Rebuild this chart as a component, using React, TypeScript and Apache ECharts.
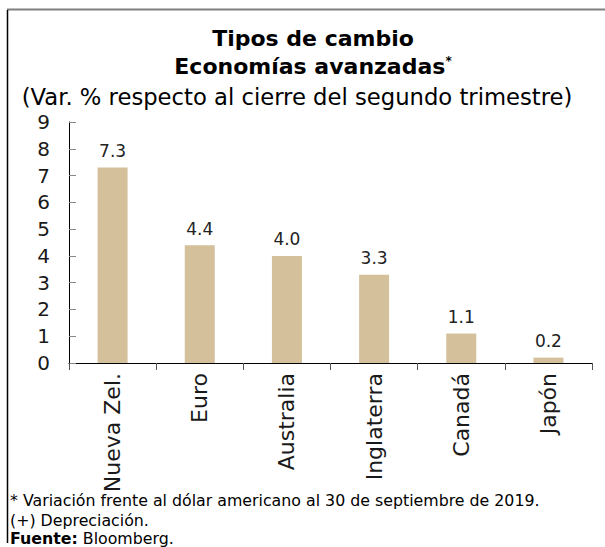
import React, { useEffect, useRef } from "react";
import * as echarts from "echarts";

const categories = ["Nueva Zel.", "Euro", "Australia", "Inglaterra", "Canadá", "Japón"];
const values = [7.3, 4.4, 4.0, 3.3, 1.1, 0.2];
const titleLine1 = "Tipos de cambio";
const titleLine2 = "Economías avanzadas";
const subtitle = "(Var. % respecto al cierre del segundo trimestre)";
const footnotes = [
  "* Variación frente al dólar americano al 30 de septiembre de 2019.",
  "(+) Depreciación.",
];
const sourceLabel = "Fuente:";
const sourceText = " Bloomberg.";

const FONT = "'DejaVu Sans', 'Open Sans', sans-serif";

export default function App() {
  const ref = useRef<HTMLDivElement>(null);
  useEffect(() => {
    if (!ref.current) return;
    const chart = echarts.init(ref.current, null, { renderer: "svg" });
    chart.setOption({
      animation: false,
      backgroundColor: "#ffffff",
      textStyle: { fontFamily: FONT },
      grid: { left: 69, right: 13, top: 122, bottom: 184, containLabel: false },
      xAxis: {
        type: "category",
        data: categories,
        axisLine: { lineStyle: { color: "#000000", width: 1 } },
        axisTick: { show: true, length: 7, lineStyle: { color: "#555555" } },
        axisLabel: {
          rotate: 90,
          fontSize: 22,
          color: "#1a1a1a",
          margin: 10,
          fontFamily: FONT,
        },
      },
      yAxis: {
        type: "value",
        min: 0,
        max: 9,
        interval: 1,
        axisLine: { show: true, lineStyle: { color: "#000000", width: 1 } },
        axisTick: { show: true, inside: true, length: 7, lineStyle: { color: "#888888" } },
        splitLine: { show: false },
        axisLabel: { fontSize: 20, color: "#1a1a1a", margin: 19, fontFamily: FONT },
      },
      series: [
        {
          type: "bar",
          data: values,
          barWidth: 30,
          itemStyle: { color: "#D4C19B" },
          label: {
            show: true,
            position: "top",
            distance: 8,
            fontSize: 17,
            color: "#222222",
            fontFamily: FONT,
            formatter: (p: any) => Number(p.value).toFixed(1),
          },
        },
      ],
      graphic: [
        { type: "line", shape: { x1: 7, y1: 9.5, x2: 605, y2: 9.5 }, style: { stroke: "#7f7f7f", lineWidth: 2 } },
        { type: "line", shape: { x1: 7.5, y1: 10, x2: 7.5, y2: 543 }, style: { stroke: "#000000", lineWidth: 1.5 } },
        {
          type: "text",
          x: 313,
          y: 38,
          style: {
            text: titleLine1,
            font: `bold 22px ${FONT}`,
            fill: "#000000",
            textAlign: "center",
            textVerticalAlign: "middle",
          },
        },
        {
          type: "text",
          x: 313,
          y: 66,
          style: {
            text: `{t|${titleLine2}}{s|*}`,
            rich: {
              t: { fontSize: 22, fontWeight: "bold", fontFamily: FONT, fill: "#000000" },
              s: { fontSize: 12, fontWeight: "bold", fontFamily: FONT, fill: "#000000", verticalAlign: "top", padding: [0, 0, 10, 0] },
            },
            textAlign: "center",
            textVerticalAlign: "middle",
          },
        },
        {
          type: "text",
          x: 297,
          y: 97,
          style: {
            text: subtitle,
            font: `22.7px ${FONT}`,
            fill: "#000000",
            textAlign: "center",
            textVerticalAlign: "middle",
          },
        },
        {
          type: "text",
          x: 10,
          y: 500,
          style: { text: footnotes[0], font: `15.8px ${FONT}`, fill: "#000000", textVerticalAlign: "middle" },
        },
        {
          type: "text",
          x: 10,
          y: 520,
          style: { text: footnotes[1], font: `15.8px ${FONT}`, fill: "#000000", textVerticalAlign: "middle" },
        },
        {
          type: "text",
          x: 10,
          y: 538.5,
          style: {
            text: `{b|${sourceLabel}}{n|${sourceText}}`,
            rich: {
              b: { fontSize: 15.8, fontWeight: "bold", fontFamily: FONT, fill: "#000000" },
              n: { fontSize: 15.8, fontFamily: FONT, fill: "#000000" },
            },
            textVerticalAlign: "middle",
          },
        },
      ],
    });
    return () => chart.dispose();
  }, []);
  return (
    <div
      ref={ref}
      style={{ position: "absolute", left: 0, top: 0, width: 605, height: 547, background: "#fff" }}
    />
  );
}
